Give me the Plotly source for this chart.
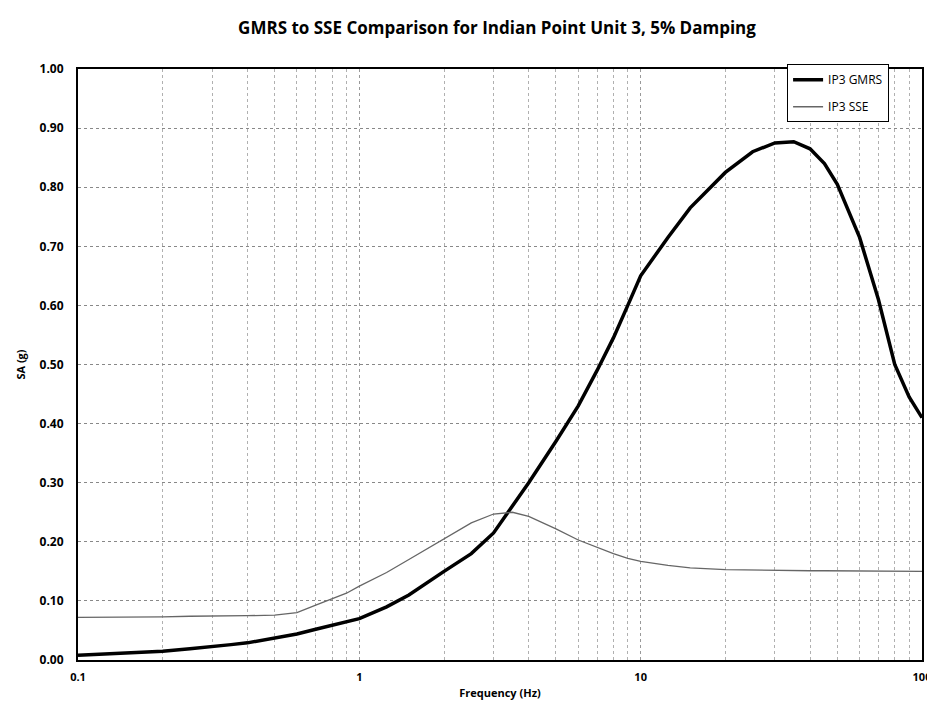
import plotly.graph_objects as go

# Frequencies (Hz)
freq = [0.1, 0.125, 0.15, 0.2, 0.25, 0.3, 0.35, 0.4, 0.5, 0.6, 0.7, 0.8, 0.9, 1.0,
        1.25, 1.5, 2.0, 2.5, 3.0, 3.5, 4.0, 5.0, 6.0, 7.0, 8.0, 9.0, 10.0,
        12.5, 15.0, 20.0, 25.0, 30.0, 35.0, 40.0, 45.0, 50.0, 60.0, 70.0, 80.0, 90.0, 100.0]

gmrs = [0.008, 0.010, 0.012, 0.015, 0.019, 0.022, 0.026, 0.029, 0.037, 0.044, 0.052, 0.059, 0.065, 0.070,
        0.090, 0.110, 0.150, 0.180, 0.215, 0.260, 0.300, 0.370, 0.430, 0.490, 0.545, 0.600, 0.650,
        0.715, 0.765, 0.825, 0.860, 0.875, 0.877, 0.865, 0.840, 0.805, 0.715, 0.610, 0.500, 0.445, 0.410]

sse = [0.072, 0.072, 0.073, 0.073, 0.074, 0.074, 0.075, 0.075, 0.076, 0.080, 0.093, 0.103, 0.113, 0.125,
       0.148, 0.170, 0.205, 0.232, 0.247, 0.250, 0.243, 0.222, 0.203, 0.190, 0.180, 0.172, 0.167,
       0.160, 0.156, 0.153, 0.152, 0.152, 0.151, 0.151, 0.151, 0.151, 0.150, 0.150, 0.150, 0.150, 0.150]

x_ticks = [0.1, 1, 10, 100]
x_labels = ["0.1", "1", "10", "100"]
y_ticks = [0.0, 0.1, 0.2, 0.3, 0.4, 0.5, 0.6, 0.7, 0.8, 0.9, 1.0]
y_labels = ["%.2f" % v for v in y_ticks]

FONT = "Open Sans"

fig = go.Figure()
fig.add_trace(go.Scatter(x=freq, y=gmrs, mode="lines", name="IP3 GMRS", legendgroup="a",
                         line=dict(color="black", width=3.5)))
fig.add_trace(go.Scatter(x=freq, y=sse, mode="lines", name="IP3 SSE", legendgroup="b",
                         line=dict(color="#666666", width=1.3)))

fig.update_layout(
    width=935, height=702,
    margin=dict(l=69, r=12, t=61, b=50),
    paper_bgcolor="white", plot_bgcolor="white",
    title=dict(text="GMRS to SSE Comparison for Indian Point Unit 3, 5% Damping",
               x=0.523, xanchor="center", y=0.971, yanchor="middle",
               font=dict(family=FONT, size=17, color="black", weight="bold")),
    font=dict(family=FONT, size=11, color="black"),
    showlegend=True,
    legend=dict(x=0.961, xanchor="right", y=1.008, yanchor="top",
                bgcolor="white", bordercolor="black", borderwidth=1,
                font=dict(family=FONT, size=12, color="black"),
                tracegroupgap=8),
    xaxis=dict(type="log", range=[-1, 2], tickvals=x_ticks, ticktext=x_labels,
               showline=True, linecolor="black", linewidth=2, mirror=True,
               showgrid=True, gridcolor="#999999", griddash="dot", gridwidth=1,
               ticks="", ticklabelstandoff=6,
               minor=dict(tickvals=[m * d for d in [0.1, 1, 10] for m in range(2, 10)],
                          showgrid=True, gridcolor="#b0b0b0", griddash="dot", gridwidth=1),
               tickfont=dict(family=FONT, size=11, weight="bold"),
               title=dict(text="Frequency (Hz)", standoff=6,
                          font=dict(family=FONT, size=11, weight="bold")),
               zeroline=False),
    yaxis=dict(range=[0, 1.0], tickvals=y_ticks, ticktext=y_labels,
               showline=True, linecolor="black", linewidth=2, mirror=True,
               showgrid=True, gridcolor="#888888", griddash="dot", gridwidth=1,
               ticks="", ticklabelstandoff=10,
               tickfont=dict(family=FONT, size=12, weight="bold"),
               title=dict(text="SA (g)", standoff=12,
                          font=dict(family=FONT, size=11, weight="bold")),
               zeroline=False),
)

fig.write_html("out.html")
